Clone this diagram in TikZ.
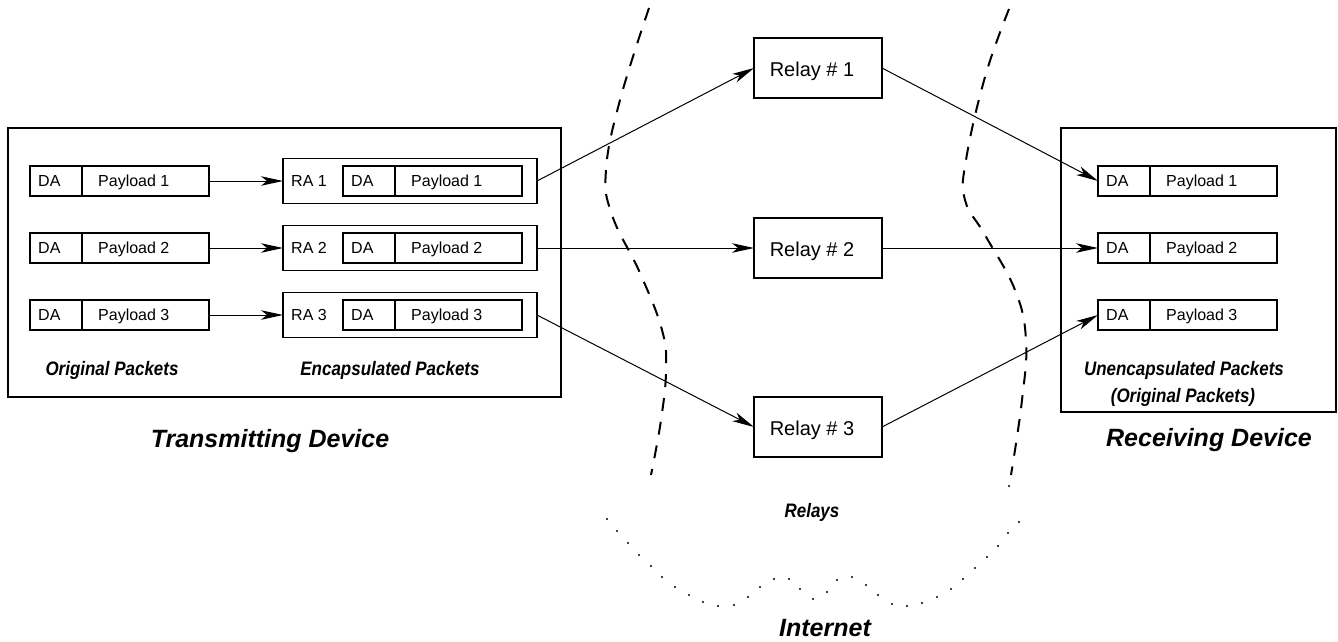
\documentclass[tikz,border=0pt]{standalone}
\usepackage{fontspec}
\setmainfont{Liberation Sans}
\newfontfamily\lblfont[FakeStretch=0.87]{Liberation Sans}
\usetikzlibrary{arrows.meta,calc}
\newcommand\pkt[4]{%
  \node[fld, minimum width=52pt] (#1a) at (#2,#3) {};
  \node[fld, minimum width=127pt] (#1b) at (#1a.east) {};
  \node[txt] (#1t) at ($(#1a.west)+(8,5.7)$) {DA};
  \node[txt] (#1p) at ($(#1b.west)+(16,5.7)$) {Payload #4};
}
\begin{document}
\begin{tikzpicture}[x=1pt,y=-1pt,
  fld/.style={draw, line width=1.2pt, inner sep=0pt, outer sep=0pt, minimum height=30pt, anchor=west},
  txt/.style={inner sep=0pt, font=\fontsize{16}{19}\selectfont, anchor=base west},
  enc/.style={draw, line width=1.2pt, inner sep=0pt, outer sep=0pt, minimum width=254pt, minimum height=45pt},
  relay/.style={draw, line width=1.2pt, inner sep=0pt, outer sep=0pt, minimum width=128pt, minimum height=60pt},
  relaytxt/.style={inner sep=0pt, anchor=base, font=\fontsize{20}{24}\selectfont},
  dev/.style={draw, line width=2pt, inner sep=0pt, outer sep=0pt},
  lbl/.style={inner sep=0pt, anchor=base, font=\lblfont\bfseries\itshape\fontsize{19.5}{23}\selectfont},
  big/.style={inner sep=0pt, anchor=base, font=\bfseries\itshape\fontsize{25}{30}\selectfont},
  arr/.style={line width=1pt, -{Stealth[length=22pt,width=9.5pt,inset=6pt]}},
  bound/.style={line width=2pt, dash pattern=on 13pt off 11pt},
]
\useasboundingbox (0,0) rectangle (1338,641);

% devices
\node[dev, minimum width=553pt, minimum height=269pt] (tx) at (284.5,262.5) {};
\node[dev, minimum width=275pt, minimum height=284pt] (rx) at (1198.5,270) {};

% original packets
\pkt{o1}{30}{181}{1}
\pkt{o2}{30}{248}{2}
\pkt{o3}{30}{315}{3}

% encapsulated packets
\node[enc] (e1) at (410,181) {};
\node[enc] (e2) at (410,248) {};
\node[enc] (e3) at (410,315) {};
\node[txt] (ra1) at (291,186.7) {RA 1};
\node[txt] (ra2) at (291,253.7) {RA 2};
\node[txt] (ra3) at (291,320.7) {RA 3};
\pkt{i1}{343}{181}{1}
\pkt{i2}{343}{248}{2}
\pkt{i3}{343}{315}{3}

% received packets
\pkt{q1}{1098}{181}{1}
\pkt{q2}{1098}{248}{2}
\pkt{q3}{1098}{315}{3}

% relays
\node[relay] (r1) at (818,68) {};
\node[relay] (r2) at (818,248) {};
\node[relay] (r3) at (818,427) {};
\node[relaytxt] (r1t) at (812,76) {Relay \# 1};
\node[relaytxt] (r2t) at (812,256) {Relay \# 2};
\node[relaytxt] (r3t) at (812,435) {Relay \# 3};

% labels
\node[lbl] (lo) at (112,375) {Original Packets};
\node[lbl] (le) at (390,375) {Encapsulated Packets};
\node[lbl] (lu) at (1184,375) {Unencapsulated Packets};
\node[lbl] (lu2) at (1183,402) {(Original Packets)};
\node[lbl] (lr) at (812,517) {Relays};
\node[big] (ltx) at (270,447) {Transmitting Device};
\node[big] (lrx) at (1209,446) {Receiving Device};
\node[big] (lin) at (825,636) {Internet};

% connectors
\draw[arr] (o1b.east) -- (e1.west);
\draw[arr] (o2b.east) -- (e2.west);
\draw[arr] (o3b.east) -- (e3.west);
\draw[arr] (e1.east) -- (r1.west);
\draw[arr] (e2.east) -- (r2.west);
\draw[arr] (e3.east) -- (r3.west);
\draw[arr] (r1.east) -- (q1a.west);
\draw[arr] (r2.east) -- (q2a.west);
\draw[arr] (r3.east) -- (q3a.west);

% internet boundary
\draw[bound] plot[smooth, tension=0.7] coordinates {(649,8) (620,100) (606,170) (612,215) (640,273) (662,330) (666,370) (661,420) (651,475)};
\draw[bound] plot[smooth, tension=0.7] coordinates {(1009,9) (985,77) (966,160) (965,200) (985,235) (1015,290) (1026,340) (1022,400) (1011,475)};
\foreach \p in {(1009,486),(1019,522),(1008,533),(998,546),(987,557),(975,568),(963,579),(951,589),(937,597),(922,603),(907,606),(892,604),(878,595),(866,585),(852,577),(837,580),(827,592),(813,599),(800,589),(789,579),(774,579),(760,587),(748,597),(734,605),(718,606),(703,602),(689,595),(675,587),(662,577),(651,566),(639,555),(628,543),(617,531),(607,519)}
  \fill \p circle (1.1pt);
\end{tikzpicture}
\end{document}
